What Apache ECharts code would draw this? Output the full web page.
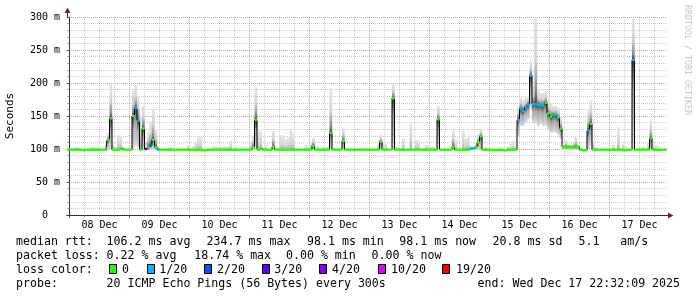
<!DOCTYPE html>
<html><head><meta charset="utf-8">
<script src="https://cdn.jsdelivr.net/npm/echarts@6/dist/echarts.min.js"></script>
<style>html,body{margin:0;padding:0;background:#fff}#c{width:697px;height:297px}</style>
</head><body><div id="c"></div>
<script>
// time axis in hours relative to 08 Dec 00:00 (10-day window, end Wed Dec 17 22:32:09 2025)
const startHour = -1;
const endHour = 239;
const firstSampleHour = -0.5;   // centre of first 1-hour sample
const sampleHours = 1;

// median rtt per hourly sample (ms)
const medianMs = [
  99,99,99,99,99,99,98.1,99,99,99,99,99,99,99,99,99,113.6,146.5,99,99,
  99,101,99,99,99,99,150,162,143,99,131,100,103,106,114,103,99,99,99,99,
  99,99,99,99,99,99,99,99,99,99,99,98.1,99,99,98.1,98.1,99,99,99,99,
  99,99,99,99,99,99,99,99,99,99,99,99,99,99,102.5,144,99,101,99,99,
  99,99,103.5,99,99,99,99,99,99,99,99,99,99,99,99,99,99,99,105,99,
  99,99,99,99,99,124,99,99,99,99,112,99,99,99,99,99,99,99,99,99,
  99,99,99,99,99,111,99,99,99,99,177,99,99,99,99,99,99,99,99,99,
  99,99,99,99,99,99,99,99,145,99,99,99,99,99,103.5,99,99,99,99,99,
  99,101,101,103,110,119,99,99,99,99,99,98.1,99,99,98.1,98.1,99,99,99,99,
  144,161,158,163,167,211,168,168,167,166,166,170,154,149,151.5,151.5,148,131,103.5,103.5,
  103.5,103.5,103.5,103.5,103.5,99,98.1,98.1,128,138,99,99,99,99,99,99,99,99,99,99,
  99,99,98.1,98.1,99,99,234.7,99,99,99,99,99,99,116,99,99,98.1,99,99,99
];
// lost pings out of 20 per sample
const lossCount = [
  0,0,0,0,0,0,0,0,0,0,0,0,0,0,0,0,0,0,0,0,
  0,0,0,0,0,0,0,1,1,0,0,3,0,2,0,0,1,0,0,0,
  0,0,0,0,0,0,0,0,0,0,0,0,0,0,0,0,0,0,0,0,
  0,0,0,0,0,0,0,0,0,0,0,0,0,0,0,0,0,0,0,0,
  0,0,0,0,0,0,0,0,0,0,0,0,0,0,0,0,0,0,0,0,
  0,0,0,0,0,0,0,0,0,0,0,0,0,0,0,0,0,0,0,0,
  0,0,0,0,0,0,0,0,0,0,0,0,0,0,0,0,0,0,0,0,
  0,0,0,0,0,0,0,0,0,0,0,0,0,0,0,0,0,0,0,0,
  0,1,1,0,0,0,0,0,0,0,0,0,0,0,0,0,0,0,0,0,
  1,1,1,1,1,1,1,1,1,1,1,0,0,0,1,1,0,0,0,0,
  0,0,0,0,0,0,0,0,1,0,0,0,0,0,0,0,0,0,0,0,
  0,0,0,0,0,0,1,0,0,0,0,0,0,0,0,0,0,0,0,0
];
// lowest ping per sample (ms)
const smokeLo = [
  98.5,98.5,98.5,98.5,98.5,98.5,98.5,98.5,98.5,98.5,98.5,98.5,98.5,98.5,98.5,98.5,99,100,98.5,98.5,
  98.5,98.5,98.5,98.5,98.5,98.5,100,105,102,98.5,100,98.5,98.5,99,100,99,98.5,98.5,98.5,98.5,
  98.5,98.5,98.5,98.5,98.5,98.5,98.5,98.5,98.5,98.5,98.5,98.5,98.5,98.5,98.5,98.5,98.5,98.5,98.5,98.5,
  98.5,98.5,98.5,98.5,98.5,98.5,98.5,98.5,98.5,98.5,98.5,98.5,98.5,98.5,98.5,100,98.5,98.5,98.5,98.5,
  98.5,98.5,98.5,98.5,98.5,98.5,98.5,98.5,98.5,98.5,98.5,98.5,98.5,98.5,98.5,98.5,98.5,98.5,99,98.5,
  98.5,98.5,98.5,98.5,98.5,100,98.5,98.5,98.5,98.5,98.5,98.5,98.5,98.5,98.5,98.5,98.5,98.5,98.5,98.5,
  98.5,98.5,98.5,98.5,98.5,98.5,98.5,98.5,98.5,98.5,100,98.5,98.5,98.5,98.5,98.5,98.5,98.5,98.5,98.5,
  98.5,98.5,98.5,98.5,98.5,98.5,98.5,98.5,100,98.5,98.5,98.5,98.5,98.5,98.5,98.5,98.5,98.5,98.5,98.5,
  98.5,98.5,98.5,98.5,98.5,98.5,98.5,98.5,98.5,98.5,98.5,98.5,98.5,98.5,98.5,98.5,98.5,98.5,98.5,98.5,
  120,135,135,140,145,160,140,140,135,138,135,135,130,125,125,125,122,115,98.5,98.5,
  98.5,98.5,98.5,98.5,98.5,98.5,98.5,98.5,100,105,98.5,98.5,98.5,98.5,98.5,98.5,98.5,98.5,98.5,98.5,
  98.5,98.5,98.5,98.5,98.5,98.5,100,98.5,98.5,98.5,98.5,98.5,98.5,100,98.5,98.5,98.5,98.5,98.5,98.5
];
// highest ping per sample (ms)
const smokeHi = [
  99.6,99.6,99.6,103.5,103.5,99.6,99.6,99.6,99.6,102.5,103,102.5,99.6,99.6,99.6,99.6,125,199,107,104,
  121,121,104,99.6,99.6,99.6,190,197,180,150,166,112,125,141,160,130,104,99.6,99.6,99.6,
  102.5,103.5,99.6,99.6,99.6,99.6,99.6,99.6,106,99.6,104,110,118,118,99.6,99.6,99.6,99.6,104,104,
  103,104,103.5,104,104,113,99.6,103,99.6,99.6,99.6,99.6,99.6,111,120,194,130,127,99.6,107,
  99.6,99.6,127,99.6,99.6,121,121,115,118,130,122,99.6,102,99.6,99.6,106,104,110,117,104,
  104,99.6,103,103,104,192,103,99.6,99.6,99.6,132,99.6,99.6,99.6,99.6,99.6,99.6,101.5,101.5,101.5,
  99.6,99.6,99.6,99.6,108,121,110,108,99.6,99.6,200,103,103,99.6,116,99.6,99.6,139,99.6,114,
  114,99.6,99.6,106,106,104,104,99.6,165,99.6,99.6,99.6,99.6,99.6,128,115,99.6,99.6,128,115,
  120,104,104,106,122,131,99.6,103,99.6,99.6,99.6,99.6,99.6,99.6,99.6,99.6,104,108,113,105,
  165,178,175,178,180,233,195,303,190,185,185,187,175,170,165,165,162,150,106,113,
  106,106,108,118,106,99.6,99.6,99.6,160,174,112,103,99.6,99.6,99.6,99.6,99.6,99.6,106,99.6,
  134,99.6,108,104,99.6,99.6,297,99.6,99.6,99.6,103,99.6,110,143,108,105,105,99.6,99.6,99.6
];

const dayTickHours = [0,24,48,72,96,120,144,168,192,216];
const quarterTickHours = [6,12,18,30,36,42,54,60,66,78,84,90,102,108,114,126,132,138,150,156,162,174,180,186,198,204,210,222,228,234];
const dayLabelHours = [12,36,60,84,108,132,156,180,204,228];
const dayLabels = ['08 Dec','09 Dec','10 Dec','11 Dec','12 Dec','13 Dec','14 Dec','15 Dec','16 Dec','17 Dec'];
const yMax = 300, yStep = 50;

const lossLevels = [0,1,2,3,4,10,19];
const lossColors = ['#26ff00','#00b8ff','#0059ff','#5e00ff','#7e00ff','#dd00ff','#ff0000'];
const lossLabels = ['0','1/20','2/20','3/20','4/20','10/20','19/20'];

const statRtt = ['median rtt:','106.2 ms avg','234.7 ms max','98.1 ms min','98.1 ms now','20.8 ms sd','5.1','am/s'];
const statLoss = ['packet loss:','0.22 % avg','18.74 % max','0.00 % min','0.00 % now'];
const probeText = ['probe:','20 ICMP Echo Pings (56 Bytes) every 300s','end: Wed Dec 17 22:32:09 2025'];
const lossTitle = 'loss color:';

// ---------- layout ----------
const MONO = '"DejaVu Sans Mono", monospace';
const G = {left:67, top:17, right:30, bottom:82, outerBoundsMode:'none', containLabel:false};
const rttX = [16, 106.6, 206.6, 307, 399.3, 492.6, 578.6, 620.3];
const lossX = [16, 106.6, 194.3, 286, 371.6];
const probeX = [16, 106.6, 477.6];
const boxX = [109.3, 146.7, 204.3, 261.7, 319.3, 377.7, 442.3];
const boxLabelX = [122, 159.3, 217, 274.3, 332, 391, 456];
const lineY = [241.5, 255.5, 269.5, 283.5];
const LF = '11.6px ' + MONO;

function lossColor(n){
  let c = lossColors[0];
  for (let i = 0; i < lossLevels.length; i++) if (n >= lossLevels[i]) c = lossColors[i];
  return c;
}

const smokeData = medianMs.map((m,i)=>[firstSampleHour + i*sampleHours, smokeLo[i], smokeHi[i], m]);
const lineData = medianMs.map((m,i)=>[firstSampleHour + i*sampleHours, m]);
const markData = medianMs.map((m,i)=>[firstSampleHour + i*sampleHours, m, lossCount[i]]);

const graphics = [];
statRtt.forEach((t,i)=>graphics.push({type:'text', x:rttX[i], y:lineY[0], style:{text:t, font:LF, fill:'#000', verticalAlign:'middle'}}));
statLoss.forEach((t,i)=>graphics.push({type:'text', x:lossX[i], y:lineY[1], style:{text:t, font:LF, fill:'#000', verticalAlign:'middle'}}));
graphics.push({type:'text', x:16, y:lineY[2], style:{text:lossTitle, font:LF, fill:'#000', verticalAlign:'middle'}});
lossLabels.forEach((t,i)=>{
  graphics.push({type:'rect', shape:{x:Math.round(boxX[i])+0.5, y:264.5, width:7, height:9}, style:{fill:lossColors[i], stroke:'#000', lineWidth:1}});
  graphics.push({type:'text', x:boxLabelX[i], y:lineY[2], style:{text:t, font:LF, fill:'#000', verticalAlign:'middle'}});
});
probeText.forEach((t,i)=>graphics.push({type:'text', x:probeX[i], y:lineY[3], style:{text:t, font:LF, fill:'#000', verticalAlign:'middle'}}));
// watermark
graphics.push({type:'text', x:687, y:5, rotation:-Math.PI/2, style:{text:'RRDTOOL / TOBI OETIKER', font:'8.3px '+MONO, fill:'#c8c8c8', align:'left', verticalAlign:'middle'}});
// axis extensions and arrows
graphics.push({type:'line', shape:{x1:667, y1:215.5, x2:669, y2:215.5}, style:{stroke:'#333', lineWidth:1}});
graphics.push({type:'polygon', shape:{points:[[668,212.5],[673.5,215.5],[668,218.5]]}, style:{fill:'#7f1f1f'}});
graphics.push({type:'line', shape:{x1:67.5, y1:17, x2:67.5, y2:12}, style:{stroke:'#333', lineWidth:1}});
graphics.push({type:'polygon', shape:{points:[[64.5,13],[67.5,7.5],[70.5,13]]}, style:{fill:'#7f1f1f'}});

const chart = echarts.init(document.getElementById('c'), null, {renderer:'canvas'});
chart.setOption({
  animation:false,
  backgroundColor:'#ffffff',
  grid:G,
  xAxis:[{
    type:'value', min:startHour, max:endHour, position:'bottom',
    axisLine:{show:true, onZero:false, lineStyle:{color:'#333', width:1}},
    axisTick:{show:true, customValues:dayTickHours, length:3, lineStyle:{color:'rgba(130,30,30,0.8)'}},
    axisLabel:{show:true, customValues:dayLabelHours, margin:5, color:'#000', fontFamily:MONO, fontSize:10,
      formatter:v=>dayLabels[Math.round((v-dayLabelHours[0])/24)]},
    splitLine:{show:true, lineStyle:{color:'rgba(130,30,30,0.42)', type:[1,1], width:1}}
  },{
    type:'value', min:startHour, max:endHour, position:'bottom', offset:0,
    axisLine:{show:false},
    axisTick:{show:true, customValues:quarterTickHours, length:2, lineStyle:{color:'rgba(120,120,120,0.6)'}},
    axisLabel:{show:false},
    splitLine:{show:true, lineStyle:{color:'rgba(140,140,140,0.45)', type:[1,1], width:1}}
  }],
  yAxis:{
    type:'value', min:0, max:yMax, interval:yStep,
    axisLine:{show:true, lineStyle:{color:'#333', width:1}},
    axisTick:{show:true, length:3, lineStyle:{color:'rgba(130,30,30,0.8)'}},
    minorTick:{show:true, splitNumber:5, length:2, lineStyle:{color:'rgba(120,120,120,0.7)'}},
    splitLine:{show:true, lineStyle:{color:'rgba(130,30,30,0.42)', type:[1,1], width:1}},
    minorSplitLine:{show:true, lineStyle:{color:'rgba(140,140,140,0.45)', type:[1,1], width:1}},
    axisLabel:{margin:7, color:'#000', fontFamily:MONO, fontSize:10, formatter:v=> v===0 ? '0  ' : v+' m'},
    name:'Seconds', nameLocation:'middle', nameGap:51, nameRotate:90,
    nameTextStyle:{fontFamily:MONO, fontSize:11, color:'#000'}
  },
  series:[{
    type:'custom', name:'smoke', clip:true, z:1, silent:true,
    data:smokeData,
    renderItem:(params, api)=>{
      const h = api.value(0), lo = api.value(1), hi = api.value(2), m = api.value(3);
      const p0 = api.coord([h - sampleHours/2, hi]);
      const p1 = api.coord([h + sampleHours/2, lo]);
      const pm = api.coord([h, m]);
      const ht = p1[1] - p0[1];
      if (ht < 1.2) return null;
      let stops;
      if (m - lo < 3) {
        stops = [{offset:0,color:'#e6e6e6'},{offset:0.6,color:'#d4d4d4'},{offset:1,color:'#aeaeae'}];
      } else {
        let t = Math.min(1, Math.max(0, (pm[1]-p0[1])/ht));
        stops = [{offset:0,color:'#e6e6e6'},{offset:0.5*t,color:'#d2d2d2'},{offset:0.85*t,color:'#8a8a8a'},
                 {offset:t,color:'#404040'},{offset:t+(1-t)*0.35,color:'#a4a4a4'},{offset:1,color:'#dadada'}];
      }
      return {type:'rect', shape:{x:p0[0], y:p0[1], width:p1[0]-p0[0]+0.2, height:ht},
        style:{fill:new echarts.graphic.LinearGradient(0,0,0,1,stops)}};
    }
  },{
    type:'line', name:'median', data:lineData, step:'middle', showSymbol:false, symbol:'none',
    clip:true, z:2, silent:true, lineStyle:{color:'#000', width:1}
  },{
    type:'custom', name:'loss', clip:true, z:3, silent:true,
    data:markData,
    renderItem:(params, api)=>{
      const h = api.value(0), m = api.value(1), n = api.value(2);
      const a = api.coord([h - sampleHours/2, m]);
      const b = api.coord([h + sampleHours/2, m]);
      return {type:'rect', shape:{x:a[0], y:a[1]-1.2, width:b[0]-a[0]+0.3, height:2.4}, style:{fill:lossColor(n)}};
    }
  }],
  graphic:graphics
});
</script></body></html>
